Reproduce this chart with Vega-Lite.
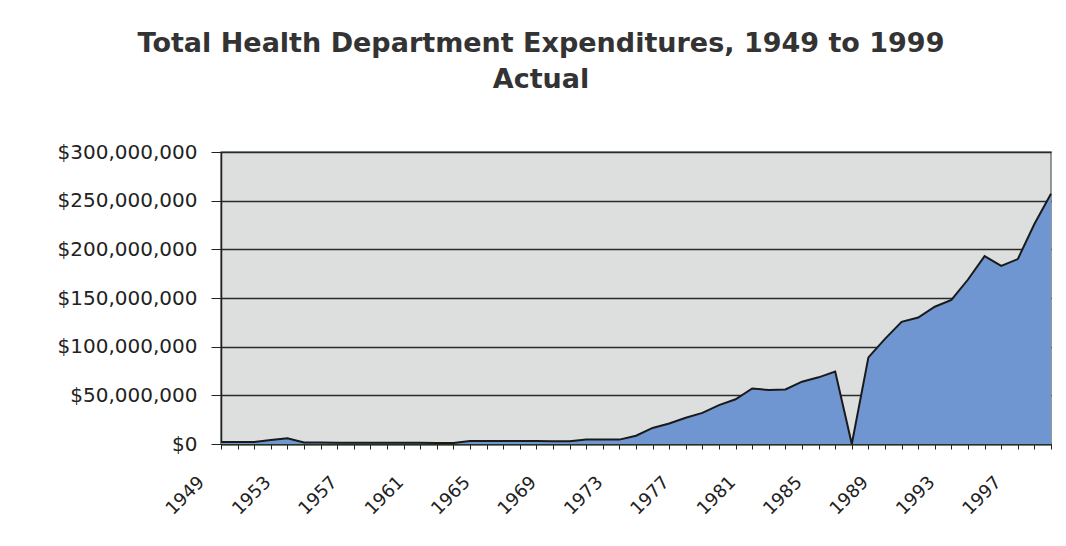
{
  "$schema": "https://vega.github.io/schema/vega-lite/v6.json",
  "autosize": {"type": "none"},
  "width": 830,
  "height": 292,
  "padding": {"left": 221, "top": 152, "right": 15, "bottom": 102},
  "background": "white",
  "title": {
    "text": ["Total Health Department Expenditures, 1949 to 1999", "Actual"],
    "font": "DejaVu Sans",
    "fontWeight": "bold",
    "fontSize": 27,
    "color": "#333333",
    "lineHeight": 36,
    "anchor": "middle",
    "frame": "group",
    "dx": -95,
    "offset": 48
  },
  "config": {
    "view": {"fill": "#dcdfde", "stroke": "#777777", "strokeWidth": 1.5},
    "axis": {"labelFont": "DejaVu Sans", "labelColor": "#222222", "titleFont": "DejaVu Sans"}
  },
  "data": {
    "values": [
      {"year": 1949, "expenditure": 2000000},
      {"year": 1950, "expenditure": 2000000},
      {"year": 1951, "expenditure": 2000000},
      {"year": 1952, "expenditure": 4000000},
      {"year": 1953, "expenditure": 6000000},
      {"year": 1954, "expenditure": 1500000},
      {"year": 1955, "expenditure": 1500000},
      {"year": 1956, "expenditure": 1400000},
      {"year": 1957, "expenditure": 1400000},
      {"year": 1958, "expenditure": 1300000},
      {"year": 1959, "expenditure": 1300000},
      {"year": 1960, "expenditure": 1200000},
      {"year": 1961, "expenditure": 1200000},
      {"year": 1962, "expenditure": 1100000},
      {"year": 1963, "expenditure": 1000000},
      {"year": 1964, "expenditure": 3000000},
      {"year": 1965, "expenditure": 3000000},
      {"year": 1966, "expenditure": 3000000},
      {"year": 1967, "expenditure": 3000000},
      {"year": 1968, "expenditure": 3000000},
      {"year": 1969, "expenditure": 2900000},
      {"year": 1970, "expenditure": 2900000},
      {"year": 1971, "expenditure": 4500000},
      {"year": 1972, "expenditure": 4500000},
      {"year": 1973, "expenditure": 4500000},
      {"year": 1974, "expenditure": 8500000},
      {"year": 1975, "expenditure": 16500000},
      {"year": 1976, "expenditure": 21000000},
      {"year": 1977, "expenditure": 27000000},
      {"year": 1978, "expenditure": 32000000},
      {"year": 1979, "expenditure": 40000000},
      {"year": 1980, "expenditure": 46000000},
      {"year": 1981, "expenditure": 57000000},
      {"year": 1982, "expenditure": 55500000},
      {"year": 1983, "expenditure": 56000000},
      {"year": 1984, "expenditure": 64000000},
      {"year": 1985, "expenditure": 68500000},
      {"year": 1986, "expenditure": 74500000},
      {"year": 1987, "expenditure": 0},
      {"year": 1988, "expenditure": 89000000},
      {"year": 1989, "expenditure": 108000000},
      {"year": 1990, "expenditure": 125500000},
      {"year": 1991, "expenditure": 130000000},
      {"year": 1992, "expenditure": 141000000},
      {"year": 1993, "expenditure": 148000000},
      {"year": 1994, "expenditure": 169000000},
      {"year": 1995, "expenditure": 193000000},
      {"year": 1996, "expenditure": 183000000},
      {"year": 1997, "expenditure": 190000000},
      {"year": 1998, "expenditure": 226000000},
      {"year": 1999, "expenditure": 257000000}
    ]
  },
  "mark": {
    "type": "area",
    "color": "#7096d2",
    "opacity": 1,
    "line": {"color": "#1a1a1a", "strokeWidth": 2}
  },
  "encoding": {
    "x": {
      "field": "year",
      "type": "quantitative",
      "scale": {"domain": [1949, 1999], "nice": false, "zero": false},
      "axis": {
        "title": null,
        "values": [1949,1950,1951,1952,1953,1954,1955,1956,1957,1958,1959,1960,1961,1962,1963,1964,1965,1966,1967,1968,1969,1970,1971,1972,1973,1974,1975,1976,1977,1978,1979,1980,1981,1982,1983,1984,1985,1986,1987,1988,1989,1990,1991,1992,1993,1994,1995,1996,1997,1998,1999],
        "labelExpr": "(datum.value - 1949) % 4 == 0 && datum.value < 1999 ? '' + datum.value : ''",
        "labelAngle": -45,
        "labelAlign": "right",
        "labelBaseline": "top",
        "labelOffset": -26,
        "labelPadding": 24,
        "labelFontSize": 18,
        "labelOverlap": false,
        "labelFlush": false,
        "labelBound": false,
        "tickSize": 5,
        "tickColor": "#222222",
        "domainColor": "#223322",
        "domainWidth": 2,
        "grid": false
      }
    },
    "y": {
      "field": "expenditure",
      "type": "quantitative",
      "scale": {"domain": [0, 300000000], "nice": false},
      "axis": {
        "title": null,
        "values": [0, 50000000, 100000000, 150000000, 200000000, 250000000, 300000000],
        "format": "$,.0f",
        "labelFontSize": 20,
        "labelPadding": 14,
        "tickSize": 10,
        "tickColor": "#222222",
        "domainColor": "#222222",
        "domainWidth": 1.5,
        "grid": true,
        "gridColor": "#2a2a2a",
        "gridWidth": 1.3,
        "gridOpacity": 1
      }
    }
  }
}
